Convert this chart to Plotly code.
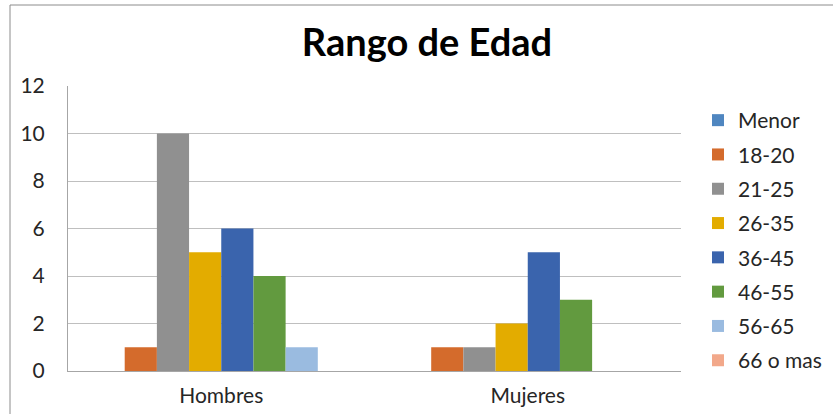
import plotly.graph_objects as go

categories = ["Hombres", "Mujeres"]
series_names = ["Menor", "18-20", "21-25", "26-35", "36-45", "46-55", "56-65", "66 o mas"]
menor = [0, 0]
r18_20 = [1, 1]
r21_25 = [10, 1]
r26_35 = [5, 2]
r36_45 = [6, 5]
r46_55 = [4, 3]
r56_65 = [1, 0]
r66_mas = [0, 0]
series_values = [menor, r18_20, r21_25, r26_35, r36_45, r46_55, r56_65, r66_mas]
colors = ["#4F86C0", "#D46B2C", "#909090", "#E3AC00", "#3A64AD", "#629A3F", "#9ABBE0", "#F2A88A"]
y_ticks = [0, 2, 4, 6, 8, 10, 12]

FONT = "Lato, Noto Sans, sans-serif"

fig = go.Figure()
for name, vals, c in zip(series_names, series_values, colors):
    fig.add_trace(go.Bar(name=name, x=categories, y=vals, legendgroup=name,
                         marker=dict(color=c, line=dict(width=0))))

W, H = 833, 414
L, T = 68, 86
R = W - 681
B = H - 371
pw = W - L - R
ph = H - T - B

fig.update_layout(
    width=W, height=H,
    margin=dict(l=L, r=R, t=T, b=B, pad=0, autoexpand=False),
    paper_bgcolor="white", plot_bgcolor="white",
    barmode="group", bargap=0.16, bargroupgap=0,
    font=dict(family=FONT, size=21, color="#262626"),
    title=dict(text="<b>Rango de Edad</b>", x=427 / W, xanchor="center",
               y=1 - 43 / H, yanchor="middle",
               font=dict(size=38, color="#000000", family=FONT)),
    showlegend=True,
    legend=dict(x=(698 - L) / pw, xanchor="left",
                y=(371 - 100) / ph, yanchor="top",
                tracegroupgap=4, itemsizing="constant",
                font=dict(size=21, color="#262626", family=FONT),
                bgcolor="rgba(0,0,0,0)", traceorder="grouped"),
    xaxis=dict(showline=True, linecolor="#A6A6A6", linewidth=1, ticks="", showgrid=False,
               automargin=False, ticklabelstandoff=6, tickfont=dict(size=21, color="#262626")),
    yaxis=dict(range=[0, 12], tickvals=y_ticks, showgrid=True, gridcolor="#BFBFBF", gridwidth=1,
               showline=True, linecolor="#A6A6A6", linewidth=1, zeroline=False, ticks="",
               automargin=False, ticklabelstandoff=18, tickfont=dict(size=21, color="#262626")),
    shapes=[dict(type="rect", xref="paper", yref="paper",
                 x0=(10 - L) / pw, x1=(W + 20 - L) / pw,
                 y0=-(B + 30) / ph, y1=(371 - 5) / ph,
                 line=dict(color="#8C8C8C", width=1), fillcolor="rgba(0,0,0,0)", layer="below")],
)
fig.write_html("out.html", config={"displayModeBar": False},
               post_script="document.body.style.margin='0px';document.body.style.overflow='hidden';")
